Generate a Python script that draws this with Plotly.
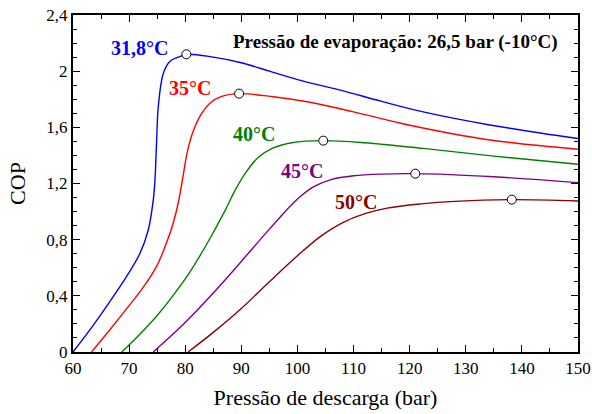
import plotly.graph_objects as go

# Data
blue_x = [60, 63.6, 66.5, 69.5, 71.9, 73.4, 74.3, 74.6, 74.9, 75.2, 76.1, 77.3, 78.8, 80.2, 85, 90, 95, 100, 107.6, 115, 122.4, 134.3, 150]
blue_y = [0, 0.19, 0.355, 0.535, 0.70, 0.867, 1.08, 1.22, 1.50, 1.747, 1.985, 2.07, 2.10, 2.12, 2.10, 2.06, 2.0, 1.94, 1.865, 1.785, 1.71, 1.617, 1.52]

red_x = [63.3, 66.5, 69.5, 72.5, 74.9, 76.5, 77.8, 78.8, 79.6, 80.4, 81.4, 82.8, 84.5, 86.5, 89.6, 95.7, 102, 110, 120, 134.3, 150]
red_y = [0, 0.155, 0.305, 0.46, 0.61, 0.76, 0.91, 1.07, 1.25, 1.43, 1.57, 1.69, 1.775, 1.82, 1.84, 1.818, 1.78, 1.71, 1.615, 1.51, 1.444]

green_x = [68.7, 72, 75, 78, 81, 84, 87, 89, 91, 93, 95.5, 99, 104.6, 112, 122.4, 135, 150]
green_y = [0, 0.13, 0.26, 0.41, 0.58, 0.78, 1.0, 1.16, 1.29, 1.385, 1.45, 1.49, 1.505, 1.49, 1.45, 1.395, 1.337]

purple_x = [74.3, 80, 85, 90, 95, 100, 103, 106, 110, 115, 121, 135, 150]
purple_y = [0, 0.21, 0.42, 0.645, 0.875, 1.09, 1.18, 1.228, 1.255, 1.267, 1.27, 1.248, 1.206]

dred_x = [80.5, 85, 90, 95, 100, 104, 108, 112, 116, 122, 128, 138.2, 150]
dred_y = [0, 0.14, 0.31, 0.50, 0.685, 0.82, 0.92, 0.985, 1.025, 1.055, 1.073, 1.085, 1.075]

opt_x = [80.2, 89.6, 104.6, 121, 138.2]
opt_y = [2.12, 1.84, 1.505, 1.27, 1.085]

labels = ["31,8°C", "35°C", "40°C", "45°C", "50°C"]
label_x = [71.9, 80.9, 92.3, 100.8, 110.4]
label_y = [2.165, 1.88, 1.553, 1.29, 1.07]
colors = ["#0000ff", "#ff0000", "#008000", "#800080", "#8b0000"]

y_ticks = [0, 0.4, 0.8, 1.2, 1.6, 2.0, 2.4]
y_ticktext = ["0", "0,4", "0,8", "1,2", "1,6", "2", "2,4"]
x_ticks = [60, 70, 80, 90, 100, 110, 120, 130, 140, 150]

title_text = "Pressão de evaporação: 26,5 bar (-10°C)"

FONT = "Liberation Serif"

fig = go.Figure()
series = [(blue_x, blue_y), (red_x, red_y), (green_x, green_y), (purple_x, purple_y), (dred_x, dred_y)]
for (xs, ys), c in zip(series, colors):
    fig.add_trace(go.Scatter(x=xs, y=ys, mode="lines",
                             line=dict(color=c, width=1.4, shape="spline", smoothing=1.0),
                             showlegend=False, hoverinfo="skip"))

fig.add_trace(go.Scatter(x=opt_x, y=opt_y, mode="markers",
                         marker=dict(color="white", size=9, line=dict(color="black", width=1)),
                         showlegend=False))

for t, x, y, c in zip(labels, label_x, label_y, colors):
    fig.add_annotation(x=x, y=y, text="<b>" + t + "</b>", showarrow=False,
                       font=dict(family=FONT, size=20, color=c))

fig.add_annotation(x=117.4, y=2.21, text="<b>" + title_text + "</b>", showarrow=False,
                   font=dict(family=FONT, size=19, color="black"))

axis_common = dict(showline=True, linecolor="black", linewidth=2, mirror="allticks",
                   ticks="inside", ticklen=7, tickwidth=1.2, tickcolor="black",
                   showgrid=False, zeroline=False, automargin=False,
                   tickfont=dict(family=FONT, size=17, color="black"))

fig.update_xaxes(range=[60, 150], tickvals=x_ticks,
                 minor=dict(dtick=5, ticks="inside", ticklen=4, tickcolor="black", showgrid=False),
                 title=dict(text="Pressão de descarga (bar)", font=dict(family=FONT, size=22, color="black"), standoff=12),
                 **axis_common)
fig.update_yaxes(range=[0, 2.4], tickvals=y_ticks, ticktext=y_ticktext,
                 minor=dict(dtick=0.1, tick0=0, ticks="inside", ticklen=4, tickcolor="black", showgrid=False),
                 title=dict(text="COP", font=dict(family=FONT, size=22, color="black"), standoff=15),
                 **axis_common)

fig.update_layout(width=592, height=414, margin=dict(l=73, r=14, t=15, b=62),
                  plot_bgcolor="white", paper_bgcolor="white",
                  font=dict(family=FONT))

fig.write_html("out.html")
